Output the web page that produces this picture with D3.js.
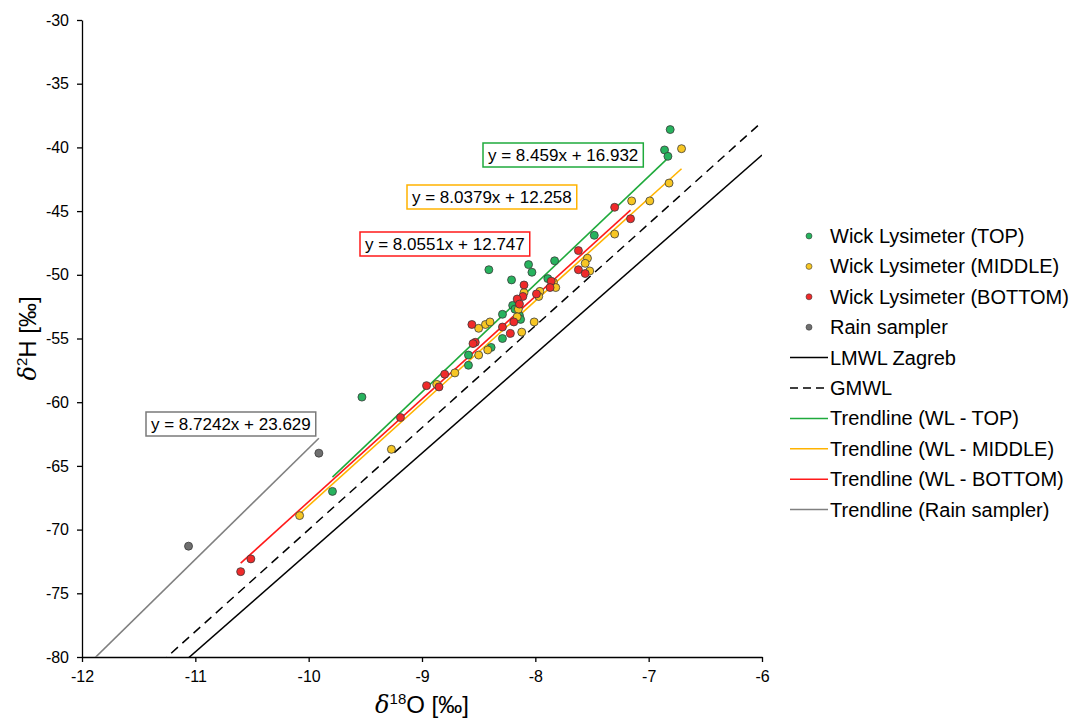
<!DOCTYPE html>
<html>
<head>
<meta charset="utf-8">
<script src="https://cdn.jsdelivr.net/npm/d3@7"></script>
<style>
  body { margin: 0; background: #fff; }
  text { font-family: "Liberation Sans", Arial, sans-serif; fill: #000; }
</style>
</head>
<body>
<svg id="chart"></svg>
<script>
// δ18O / δ2H readings
const topPts = [[-6.81,-38.6],[-6.86,-40.2],[-6.83,-40.7],[-7.48,-46.9],[-7.83,-48.9],[-8.06,-49.2],[-8.03,-49.8],
  [-8.41,-49.6],[-8.21,-50.4],[-7.89,-50.3],[-8.20,-52.4],[-8.18,-52.7],[-8.29,-53.1],[-8.14,-53.2],[-8.13,-53.5],
  [-8.29,-55.0],[-8.39,-55.7],[-8.59,-56.3],[-8.59,-57.1],[-9.53,-59.6],[-9.79,-67.0]]
const middlePts = [[-6.71,-40.1],[-6.82,-42.8],[-6.99,-44.2],[-7.15,-44.2],[-7.30,-46.8],[-7.54,-48.7],[-7.56,-49.1],
  [-7.52,-49.7],[-7.84,-50.6],[-7.82,-51.0],[-7.96,-51.3],[-7.97,-51.7],[-8.10,-51.4],[-8.15,-52.7],[-8.16,-53.3],
  [-8.01,-53.7],[-8.12,-54.5],[-8.44,-53.9],[-8.40,-53.7],[-8.50,-54.2],[-8.42,-55.9],[-8.50,-56.3],[-8.71,-57.7],
  [-8.87,-58.6],[-9.27,-63.7],[-10.08,-68.9]]
const bottomPts = [[-7.16,-45.6],[-7.30,-44.7],[-7.62,-48.1],[-7.62,-49.6],[-7.56,-49.9],[-7.86,-50.5],[-7.87,-51.0],
  [-7.99,-51.5],[-8.10,-50.8],[-8.11,-51.7],[-8.16,-51.9],[-8.14,-52.3],[-8.19,-53.7],[-8.29,-54.1],[-8.22,-54.6],
  [-8.56,-53.9],[-8.53,-55.3],[-8.55,-55.4],[-8.80,-57.8],[-8.96,-58.7],[-8.85,-58.8],[-9.19,-61.2],[-10.51,-72.3],
  [-10.60,-73.3]]
const rainPts = [[-11.06,-71.3],[-9.91,-64.0]]

const seriesNames = ['Wick Lysimeter (TOP)', 'Wick Lysimeter (MIDDLE)', 'Wick Lysimeter (BOTTOM)', 'Rain sampler']

// trendlines: slope, intercept, x-range
const trendNames = ['Trendline (WL - TOP)', 'Trendline (WL - MIDDLE)', 'Trendline (WL - BOTTOM)', 'Trendline (Rain sampler)']
const trendSlope = [8.459, 8.0379, 8.0551, 8.7242]
const trendIntercept = [16.932, 12.258, 12.747, 23.629]
const trendFrom = [-9.79, -10.08, -10.60, -12.5]
const trendTo = [-6.83, -6.71, -7.16, -9.91]

// meteoric water lines
const mwlNames = ['LMWL Zagreb', 'GMWL']
const mwlSlope = [7.8, 8]
const mwlIntercept = [6.2, 10]

const xTicks = [-12, -11, -10, -9, -8, -7, -6]
const yTicks = [-30, -35, -40, -45, -50, -55, -60, -65, -70, -75, -80]

const width = 1073
const height = 719
const margin = { left: 82, top: 20, right: 311, bottom: 62 }

const pointFill = ['#27b35e', '#f7c623', '#f02a2a', '#6f6f6f']
const trendColor = ['#1faa3c', '#ffb300', '#ff1a1a', '#808080']

const svg = d3.select('#chart')
  .attr('width', width)
  .attr('height', height)

svg.append('rect').attr('width', width).attr('height', height).attr('fill', '#fff')

const x = d3.scaleLinear().domain([-12, -6]).range([margin.left, width - margin.right])
const y = d3.scaleLinear().domain([-80, -30]).range([height - margin.bottom, margin.top])

svg.append('defs').append('clipPath').attr('id', 'plot')
  .append('rect')
  .attr('x', margin.left).attr('y', margin.top)
  .attr('width', x(-6) - margin.left).attr('height', y(-80) - margin.top)

// axes (plain hyphen for negatives, like the original)
const fmt = d => String(d)
const xAxis = svg.append('g')
  .attr('transform', `translate(0,${y(-80)})`)
  .call(d3.axisBottom(x).tickValues(xTicks).tickFormat(fmt).tickSize(5).tickSizeOuter(0).tickPadding(6))
const yAxis = svg.append('g')
  .attr('transform', `translate(${x(-12)},0)`)
  .call(d3.axisLeft(y).tickValues(yTicks).tickFormat(fmt).tickSize(5).tickSizeOuter(0).tickPadding(8))

;[xAxis, yAxis].forEach(a => {
  a.select('.domain').attr('stroke', '#000').attr('stroke-width', 1.3)
  a.selectAll('.tick line').attr('stroke', '#000').attr('stroke-width', 1.3)
  a.selectAll('.tick text').style('font-size', '16px').attr('fill', '#000')
    .style('font-family', '"Liberation Sans", Arial, sans-serif')
})
xAxis.selectAll('.tick text').attr('dy', '0.9em')

const plot = svg.append('g').attr('clip-path', 'url(#plot)')

// water lines
mwlSlope.forEach((s, i) => {
  plot.append('line')
    .attr('x1', x(-12)).attr('y1', y(s * -12 + mwlIntercept[i]))
    .attr('x2', x(-6)).attr('y2', y(s * -6 + mwlIntercept[i]))
    .attr('stroke', '#000')
    .attr('stroke-width', 1.5)
    .attr('stroke-dasharray', i === 1 ? '9,6' : null)
})

// trendlines
trendSlope.forEach((s, i) => {
  plot.append('line')
    .attr('x1', x(trendFrom[i])).attr('y1', y(s * trendFrom[i] + trendIntercept[i]))
    .attr('x2', x(trendTo[i])).attr('y2', y(s * trendTo[i] + trendIntercept[i]))
    .attr('stroke', trendColor[i])
    .attr('stroke-width', 1.6)
})

// points
;[topPts, middlePts, bottomPts, rainPts].forEach((pts, i) => {
  plot.append('g').selectAll('circle')
    .data(pts)
    .enter().append('circle')
    .attr('cx', d => x(d[0]))
    .attr('cy', d => y(d[1]))
    .attr('r', 4)
    .attr('fill', pointFill[i])
    .attr('stroke', '#3a3a3a')
    .attr('stroke-width', 0.8)
})

// equation labels
const eqPos = [[483, 143], [407, 185], [360, 232], [146, 412]]
trendSlope.forEach((s, i) => {
  const g = svg.append('g').attr('transform', `translate(${eqPos[i][0]},${eqPos[i][1]})`)
  const box = g.append('rect')
    .attr('fill', '#fff')
    .attr('stroke', trendColor[i] === '#808080' ? '#7a7a7a' : trendColor[i])
    .attr('stroke-width', 1.5)
  const t = g.append('text')
    .attr('x', 5).attr('y', 18)
    .style('font-size', '17px')
    .text(`y = ${s}x + ${trendIntercept[i]}`)
  const w = t.node().getComputedTextLength()
  box.attr('width', w + 10).attr('height', 24)
})

// legend
const legend = svg.append('g').attr('transform', 'translate(790,236)')
const rowH = 30.4
seriesNames.forEach((n, i) => {
  const r = legend.append('g').attr('transform', `translate(0,${i * rowH})`)
  r.append('circle').attr('cx', 19).attr('cy', 0).attr('r', 3)
    .attr('fill', pointFill[i]).attr('stroke', '#3a3a3a').attr('stroke-width', 0.6)
  r.append('text').attr('x', 40).attr('y', 7).style('font-size', '20px').text(n)
})
const lineNames = mwlNames.concat(trendNames)
lineNames.forEach((n, i) => {
  const r = legend.append('g').attr('transform', `translate(0,${(i + 4) * rowH})`)
  r.append('line').attr('x1', 0).attr('x2', 38).attr('y1', 0).attr('y2', 0)
    .attr('stroke', i < 2 ? '#000' : trendColor[i - 2])
    .attr('stroke-width', 1.5)
    .attr('stroke-dasharray', i === 1 ? '8,5' : null)
  r.append('text').attr('x', 40).attr('y', 7).style('font-size', '20px').text(n)
})

// axis titles
const xt = svg.append('text')
  .attr('x', (x(-12) + x(-6)) / 2).attr('y', 713)
  .attr('text-anchor', 'middle')
  .style('font-size', '24px')
xt.append('tspan').style('font-style', 'italic').style('font-family', '"DejaVu Serif", serif').text('δ')
xt.append('tspan').attr('dy', -9).style('font-size', '15px').text('18')
xt.append('tspan').attr('dy', 9).text('O [‰]')

const yt = svg.append('text')
  .attr('transform', `translate(36,${(y(-30) + y(-80)) / 2}) rotate(-90)`)
  .attr('text-anchor', 'middle')
  .style('font-size', '24px')
yt.append('tspan').style('font-style', 'italic').style('font-family', '"DejaVu Serif", serif').text('δ')
yt.append('tspan').attr('dy', -9).style('font-size', '15px').text('2')
yt.append('tspan').attr('dy', 9).text('H [‰]')
</script>
</body>
</html>
